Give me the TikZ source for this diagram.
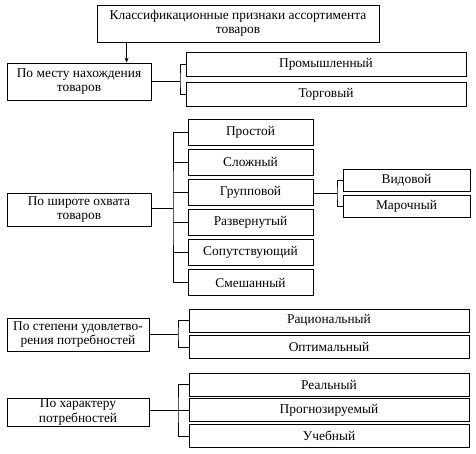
\documentclass[tikz,border=0pt]{standalone}
\usepackage{fontspec}
\setmainfont{Liberation Serif}
\usetikzlibrary{arrows.meta,positioning,calc}

\tikzset{
	box/.style = {draw, line width=.8pt, align=center, inner sep=0pt, font=\fontsize{13.4}{14.5}\selectfont},
	cat/.style = {box, minimum width=144pt, minimum height=35pt},
	kind/.style = {box, minimum width=125pt, minimum height=26pt},
	wide/.style = {box, minimum width=280pt, minimum height=23pt},
	sub/.style = {box, minimum width=127pt, minimum height=22pt},
	link/.style = {line width=.8pt},
}

\begin{document}
\begin{tikzpicture}[x=1pt, y=-1pt]
		\useasboundingbox (0,0) rectangle (476,454);
		
		\node[box, minimum width=282pt, minimum height=37pt] (title) at (238,23.5) {Классификационные признаки ассортимента\\товаров};
		
		% по месту нахождения
		\node[cat, minimum height=37pt] (place) at (79,81.5) {По месту нахождения\\товаров};
		\node[wide, minimum height=24pt] (prom) at (326,64) {Промышленный};
		\node[wide, minimum height=24pt] (trade) at (326,94) {Торговый};
		
		% по широте охвата
		\node[cat, minimum height=33pt] (width) at (79,209.5) {По широте охвата\\товаров};
		\node[kind] (simple) at (250.5,132) {Простой};
		\node[kind] (complex) at (250.5,162) {Сложный};
		\node[kind] (group) at (250.5,192) {Групповой};
		\node[kind] (expand) at (250.5,222) {Развернутый};
		\node[kind] (accomp) at (250.5,252) {Сопутствующий};
		\node[kind] (mixed) at (250.5,282.5) {Смешанный};
		\node[sub] (species) at (406.5,180) {Видовой};
		\node[sub] (brand) at (406.5,206) {Марочный};
		
		% по степени удовлетворения
		\node[cat, minimum width=142pt, minimum height=33pt] (degree) at (78,334.5) {По степени удовлетво-\\рения потребностей};
		\node[wide] (rational) at (329,320.5) {Рациональный};
		\node[wide] (optimal) at (329,347) {Оптимальный};
		
		% по характеру потребностей
		\node[cat, minimum width=142pt, minimum height=28pt] (nature) at (78,412) {По характеру\\потребностей};
		\node[wide] (real) at (329,384.5) {Реальный};
		\node[wide] (forecast) at (329,410) {Прогнозируемый};
		\node[wide] (study) at (329,436) {Учебный};
		
		\draw[link, -{Stealth[length=5pt, width=4pt]}] ([xshift=30pt]title.south west) -- ([xshift=30pt]title.south west |- place.north);
		
		\coordinate (s1) at (180,81.5);
		\draw[link] (place.east) -- (s1);
		\draw[link] (prom.west) -| (s1) |- (trade.west);
		
		\coordinate (s2) at (173,208);
		\draw[link] (width.east |- s2) -- (s2);
		\draw[link] (simple.west) -| (s2) |- (mixed.west);
		\foreach \n in {complex, group, expand, accomp}
			\draw[link] (\n.west) -- (\n.west -| s2);
		
		\coordinate (s3) at (337,193);
		\draw[link] (group.east |- s3) -- (s3);
		\draw[link] (species.west) -| (s3) |- (brand.west);
		
		\coordinate (s4) at (178,334);
		\draw[link] (degree.east |- s4) -- (s4);
		\draw[link] (rational.west) -| (s4) |- (optimal.west);
		
		\coordinate (s5) at (178,410);
		\draw[link] (nature.east |- s5) -- (s5);
		\draw[link] (real.west) -| (s5) |- (study.west);
		\draw[link] (forecast.west) -- (forecast.west -| s5);
	\end{tikzpicture}
\end{document}
